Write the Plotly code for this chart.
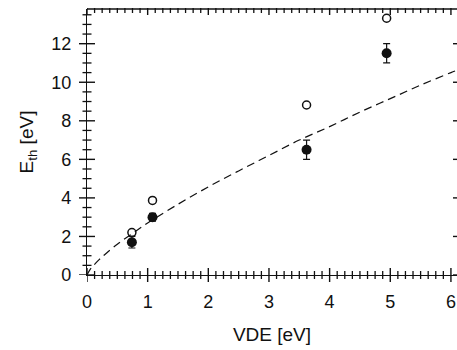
import numpy as np
import plotly.graph_objects as go

# Measured thresholds (filled: with error bars) and the second data set (open circles)
vde_filled = [0.74, 1.08, 3.62, 4.94]
eth_filled = [1.7, 3.0, 6.5, 11.5]
eth_filled_err = [0.3, 0.2, 0.5, 0.5]

vde_open = [0.74, 1.08, 3.62, 4.94]
eth_open = [2.2, 3.87, 8.82, 13.32]

# Model curve (dashed)
vde_curve = [0, 0.05, 0.1, 0.2, 0.3, 0.5, 0.75, 1.0, 1.5, 2.0, 2.5, 3.0, 3.5,
             4.0, 4.5, 5.0, 5.5, 6.0, 6.1]
eth_curve = [0, 0.28, 0.47, 0.80, 1.08, 1.6, 2.16, 2.7, 3.67, 4.57, 5.4, 6.2,
             7.0, 7.7, 8.45, 9.15, 9.85, 10.5, 10.62]

# Tick values
x_major = [0, 1, 2, 3, 4, 5, 6]
y_major = [0, 2, 4, 6, 8, 10, 12]
X_MINOR_STEP = 0.125
Y_MINOR_STEP = 0.5

X_RANGE = [0, 6.1]
Y_RANGE = [0, 13.8]
INK = "#111111"
FONT = "Liberation Sans, Arial, sans-serif"

W, H = 457, 350
MARGIN = dict(l=87, r=0, t=9, b=75)
PLOT_W = W - MARGIN["l"] - MARGIN["r"]
PLOT_H = H - MARGIN["t"] - MARGIN["b"]

x_minor = [float(v) for v in np.arange(0, X_RANGE[1] + 1e-9, X_MINOR_STEP)
           if abs(v - round(v)) > 1e-9]
y_minor = [float(v) for v in np.arange(0, Y_RANGE[1] + 1e-9, Y_MINOR_STEP)
           if abs(v / 2 - round(v / 2)) > 1e-9]

fig = go.Figure()

fig.add_trace(go.Scatter(
    x=vde_curve, y=eth_curve, mode="lines", line_shape="spline",
    line=dict(color=INK, width=1.2, dash="8px,5px"),
    hoverinfo="skip", showlegend=False))

fig.add_trace(go.Scatter(
    x=vde_open, y=eth_open, mode="markers",
    marker=dict(symbol="circle-open", size=8, color=INK, line=dict(width=1.5, color=INK)),
    showlegend=False))

fig.add_trace(go.Scatter(
    x=vde_filled, y=eth_filled, mode="markers",
    marker=dict(symbol="circle", size=10, color=INK),
    error_y=dict(type="data", array=eth_filled_err, visible=True,
                 color=INK, thickness=1.2, width=3.5),
    showlegend=False))

fig.update_xaxes(range=X_RANGE, tickvals=x_major, showgrid=False, zeroline=False,
                 showline=True, linecolor=INK, linewidth=1.3, ticks="",
                 ticklabelstandoff=10,
                 title=dict(text="VDE [eV]", font=dict(size=19), standoff=16))
fig.update_yaxes(range=Y_RANGE, tickvals=y_major, showgrid=False, zeroline=False,
                 showline=True, linecolor=INK, linewidth=1.3, ticks="",
                 ticklabelstandoff=11,
                 title=dict(text="E<sub>th</sub> [eV]", font=dict(size=19), standoff=12))

major_line = dict(color=INK, width=1.4)
minor_line = dict(color=INK, width=1.3)
shapes = []


def xtick(v, y0_px, y1_px, line):
    # vertical tick at data x, pixel offsets measured up from the bottom of the plot area
    shapes.append(dict(type="line", xref="x", yref="paper", x0=v, x1=v,
                       y0=y0_px / PLOT_H, y1=y1_px / PLOT_H, line=line))


def ytick(v, x0_px, x1_px, line):
    # horizontal tick at data y, pixel offsets measured from the left of the plot area
    shapes.append(dict(type="line", xref="paper", yref="y", y0=v, y1=v,
                       x0=x0_px / PLOT_W, x1=x1_px / PLOT_W, line=line))


# bottom axis: crossing ticks; top axis: inward ticks
for v in x_major:
    xtick(v, -7, 7, major_line)
    xtick(v, PLOT_H + 1, PLOT_H - 6, major_line)
for v in x_minor:
    xtick(v, -4, 4, minor_line)
    xtick(v, PLOT_H + 1, PLOT_H - 4, minor_line)
# left axis: crossing ticks; right side: short inward major ticks
for v in y_major:
    ytick(v, -8, 8, major_line)
    ytick(v, PLOT_W + 1, PLOT_W - 4, major_line)
for v in y_minor:
    ytick(v, -4.5, 4.5, minor_line)

# top frame line
shapes.append(dict(type="line", xref="paper", yref="paper", x0=0, x1=1, y0=1, y1=1,
                   line=dict(color=INK, width=1.3)))

fig.update_layout(
    width=W, height=H,
    margin=MARGIN,
    paper_bgcolor="white", plot_bgcolor="white",
    font=dict(family=FONT, size=18, color=INK),
    shapes=shapes,
)

fig.write_html("out.html")
